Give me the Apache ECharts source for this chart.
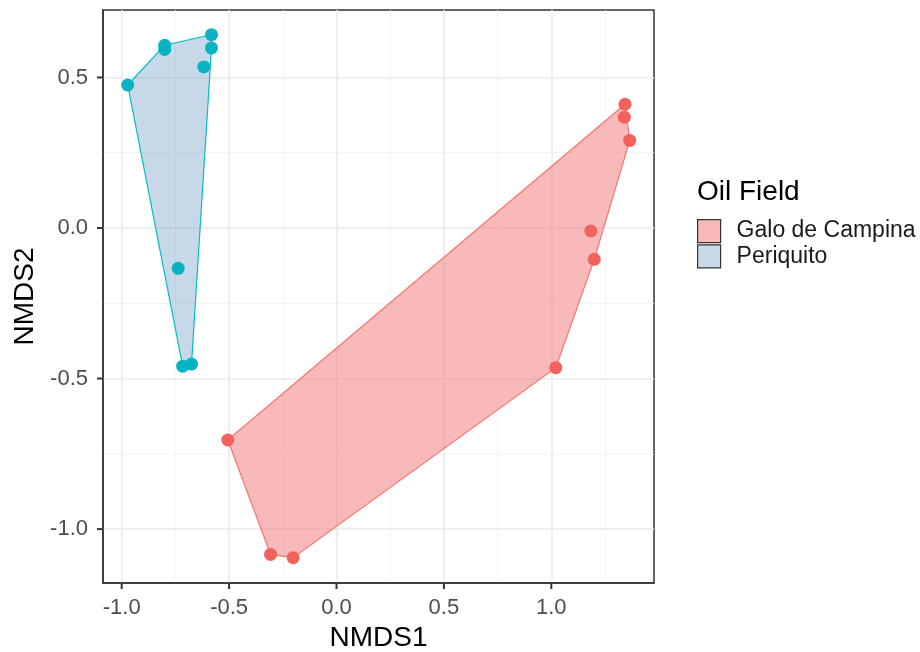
<!DOCTYPE html>
<html>
<head>
<meta charset="utf-8">
<script src="https://cdn.jsdelivr.net/npm/echarts@6/dist/echarts.min.js"></script>
<style>
  html, body { margin: 0; padding: 0; background: #fff; }
  #chart { width: 920px; height: 652px; }
</style>
</head>
<body>
<div id="chart"></div>
<script>
// NMDS scores per sample
const galoX = [-0.506, -0.307, -0.202, 1.021, 1.200, 1.184, 1.365, 1.340, 1.343]
const galoY = [-0.704, -1.084, -1.095, -0.464, -0.104, -0.010, 0.291, 0.368, 0.411]
const periX = [-0.972, -0.800, -0.800, -0.582, -0.582, -0.618, -0.737, -0.716, -0.675]
const periY = [0.475, 0.607, 0.593, 0.642, 0.598, 0.535, -0.134, -0.459, -0.452]

// convex hull vertices (in drawing order)
const galoHullX = [-0.506, -0.307, -0.202, 1.021, 1.200, 1.365, 1.343]
const galoHullY = [-0.704, -1.084, -1.095, -0.464, -0.104, 0.291, 0.411]
const periHullX = [-0.972, -0.800, -0.582, -0.582, -0.675, -0.716]
const periHullY = [0.475, 0.607, 0.642, 0.598, -0.452, -0.459]

const xRange = [-1.087, 1.478]
const yRange = [-1.179, 0.724]
const xTicks = [-1.0, -0.5, 0.0, 0.5, 1.0]
const yTicks = [-1.0, -0.5, 0.0, 0.5]
const xMinor = [-0.75, -0.25, 0.25, 0.75, 1.25]
const yMinor = [-0.75, -0.25, 0.25]

const groups = ['Galo de Campina', 'Periquito']

const galoFill = 'rgba(240,120,120,0.52)'
const periFill = 'rgba(70,130,180,0.3)'
const galoLine = '#F8766D'
const periLine = '#00BFC4'

const chart = echarts.init(document.getElementById('chart'))

const pairs = (xs, ys) => xs.map((x, i) => [x, ys[i]])

const hullRenderer = (xs, ys, fill, stroke) => (params, api) => {
  if (params.dataIndex !== 0) return
  const pts = xs.map((x, i) => api.coord([x, ys[i]]))
  return {
    type: 'polygon',
    shape: { points: pts },
    style: { fill: fill, stroke: stroke, lineWidth: 1.2 }
  }
}

const gridLines = (vals, key, color, width) =>
  vals.map(v => ({ [key]: v, lineStyle: { color: color, width: width, type: 'solid' } }))

chart.setOption({
  animation: false,
  textStyle: { fontFamily: 'Liberation Sans, Arial, sans-serif' },
  grid: {
    left: 103, top: 10, right: 266, bottom: 69,
    outerBoundsMode: 'none',
    show: true, borderColor: '#333', borderWidth: 1.5,
    containLabel: false
  },
  xAxis: {
    type: 'value',
    min: xRange[0],
    max: xRange[1],
    name: 'NMDS1',
    nameLocation: 'middle',
    nameGap: 37,
    nameTextStyle: { fontSize: 28, color: '#000' },
    axisLine: { show: true, onZero: false, lineStyle: { color: '#333', width: 1.5 } },
    axisTick: { show: false },
    axisLabel: { customValues: xTicks, fontSize: 22, color: '#4D4D4D', margin: 14, formatter: v => v.toFixed(1) },
    splitLine: { show: false }
  },
  yAxis: {
    type: 'value',
    min: yRange[0],
    max: yRange[1],
    name: 'NMDS2',
    nameLocation: 'middle',
    nameGap: 58,
    nameTextStyle: { fontSize: 28, color: '#000' },
    axisLine: { show: true, onZero: false, lineStyle: { color: '#333', width: 1.5 } },
    axisTick: { show: false },
    axisLabel: { customValues: yTicks, fontSize: 22, color: '#4D4D4D', margin: 15, formatter: v => v.toFixed(1) },
    splitLine: { show: false }
  },
  legend: {
    orient: 'vertical',
    left: 697,
    top: 219,
    padding: 0,
    itemWidth: 23,
    itemHeight: 23,
    itemGap: 1,
    selectedMode: false,
    textStyle: { fontSize: 23, color: '#1A1A1A', padding: [0, 0, 0, 11] },
    data: [
      { name: groups[0], icon: 'rect', itemStyle: { color: galoFill, borderColor: '#333', borderWidth: 1.2 } },
      { name: groups[1], icon: 'rect', itemStyle: { color: periFill, borderColor: '#333', borderWidth: 1.2 } }
    ]
  },
  series: [
    {
      // background grid lines
      type: 'line',
      data: [],
      silent: true,
      z: 0,
      markLine: {
        silent: true,
        z: 0,
        symbol: ['none', 'none'],
        label: { show: false },
        animation: false,
        data: [
          ...gridLines(xMinor, 'xAxis', '#F2F2F2', 0.8),
          ...gridLines(yMinor, 'yAxis', '#F2F2F2', 0.8),
          ...gridLines(xTicks, 'xAxis', '#EBEBEB', 1.6),
          ...gridLines(yTicks, 'yAxis', '#EBEBEB', 1.6)
        ]
      }
    },
    {
      name: groups[0],
      type: 'custom',
      z: 4,
      renderItem: hullRenderer(galoHullX, galoHullY, galoFill, galoLine),
      data: pairs(galoHullX, galoHullY),
      itemStyle: { color: galoFill }
    },
    {
      name: groups[1],
      type: 'custom',
      z: 4,
      renderItem: hullRenderer(periHullX, periHullY, periFill, periLine),
      data: pairs(periHullX, periHullY),
      itemStyle: { color: periFill }
    },
    {
      name: groups[0],
      type: 'scatter',
      z: 6,
      symbolSize: 13,
      itemStyle: { color: '#F2625D', opacity: 1 },
      data: pairs(galoX, galoY)
    },
    {
      name: groups[1],
      type: 'scatter',
      z: 6,
      symbolSize: 13,
      itemStyle: { color: '#0AB3C4', opacity: 1 },
      data: pairs(periX, periY)
    }
  ]
})

// legend title and outward tick marks, placed through the chart's own scales
const toPx = v => chart.convertToPixel({ gridIndex: 0 }, v)
const tickStyle = { stroke: '#333', lineWidth: 2 }
const ticks = [
  ...xTicks.map((v, i) => {
    const p = toPx([v, yRange[0]])
    return { id: 'xt' + i, type: 'line', silent: true, z: 100, shape: { x1: p[0], y1: p[1], x2: p[0], y2: p[1] + 6 }, style: tickStyle }
  }),
  ...yTicks.map((v, i) => {
    const p = toPx([xRange[0], v])
    return { id: 'yt' + i, type: 'line', silent: true, z: 100, shape: { x1: p[0], y1: p[1], x2: p[0] - 6, y2: p[1] }, style: tickStyle }
  })
]
chart.setOption({
  graphic: [
    {
      id: 'legendTitle',
      type: 'text',
      left: 697,
      top: 178,
      style: { text: 'Oil Field', fontSize: 28, fill: '#000', fontFamily: 'Liberation Sans, Arial, sans-serif' }
    },
    ...ticks
  ]
})
</script>
</body>
</html>
